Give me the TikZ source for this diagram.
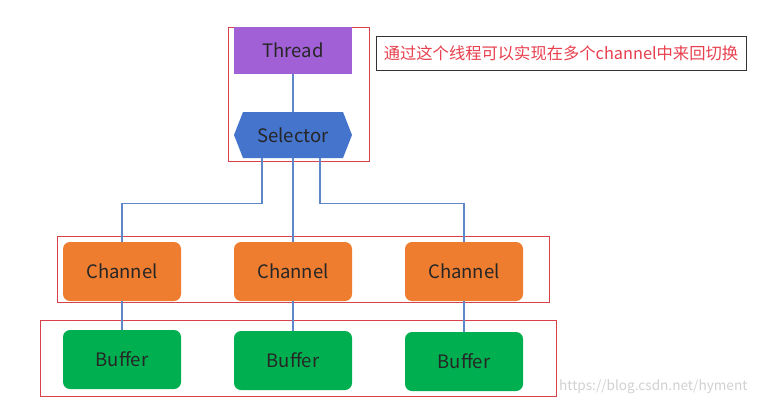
\documentclass[tikz,border=0pt]{standalone}
\usepackage{fontspec}
\setmainfont{Noto Sans CJK SC}
\usetikzlibrary{shapes.geometric}
\definecolor{thr}{HTML}{A260D6}
\definecolor{sel}{HTML}{4474CC}
\definecolor{chn}{HTML}{EE7D30}
\definecolor{buf}{HTML}{00B050}
\definecolor{frame}{HTML}{D8404A}
\definecolor{wire}{HTML}{5F86C8}
\definecolor{note}{HTML}{E8404E}
\tikzset{
  lbl/.style={font=\fontsize{18.5}{18.5}\selectfont, text=black!85},
  box/.style={lbl, rounded corners=7pt, minimum width=118pt, minimum height=59pt, inner sep=0pt},
  chbox/.style={box, fill=chn},
  bfbox/.style={box, fill=buf},
  group/.style={draw=frame, line width=0.9pt},
  wireline/.style={draw=wire, line width=1.3pt},
}
\begin{document}
\begin{tikzpicture}[x=1pt,y=-1pt]
\useasboundingbox (0,0) rectangle (757,405);
\fill[white] (0,0) rectangle (757,405);
% group frames
\draw[group] (228,27) rectangle (369,161);
\draw[group] (57,236) rectangle (549,302);
\draw[group] (40,320) rectangle (556,396);
% thread
\node[lbl, fill=thr, minimum width=118pt, minimum height=47pt, inner sep=0pt] (thread) at (293,50.5) {Thread};
% selector hexagon
\fill[sel] (234,135) -- (243,112) -- (343,112) -- (352,135) -- (343,158) -- (243,158) -- cycle;
\node[lbl, minimum width=118pt, minimum height=46pt, inner sep=0pt] (selector) at (293,135) {Selector};
% channels
\node[chbox] (c1) at (122,271.5) {Channel};
\node[chbox] (c2) at (293,271.5) {Channel};
\node[chbox] (c3) at (464,271.5) {Channel};
% buffers
\node[bfbox] (b1) at (122,359.5) {Buffer};
\node[bfbox] (b2) at (293,360.5) {Buffer};
\node[bfbox] (b3) at (464,361.5) {Buffer};
% wires
\draw[wireline] (thread.south) -- (selector.north);
\draw[wireline] (selector.south) ++(-31,0) coordinate (sl) -- ++(0,45) -| (c1.north);
\draw[wireline] (selector.south) -- (c2.north);
\draw[wireline] (selector.south) ++(27,0) coordinate (sr) -- ++(0,45) -| (c3.north);
\draw[wireline] (c1.south) -- (b1.north);
\draw[wireline] (c2.south) -- (b2.north);
\draw[wireline] (c3.south) -- (b3.north);
% note
\node[draw=black!80, line width=1pt, minimum width=370pt, minimum height=34pt, inner sep=0pt, text=note, font=\fontsize{16.3}{16.3}\selectfont] (note) at (561,53) {通过这个线程可以实现在多个channel中来回切换};
% watermark
\node[text=black!18, font=\fontsize{13.6}{13.6}\selectfont, anchor=west, inner sep=0pt] (wm) at (559,387) {https://blog.csdn.net/hyment};
\end{tikzpicture}
\end{document}
